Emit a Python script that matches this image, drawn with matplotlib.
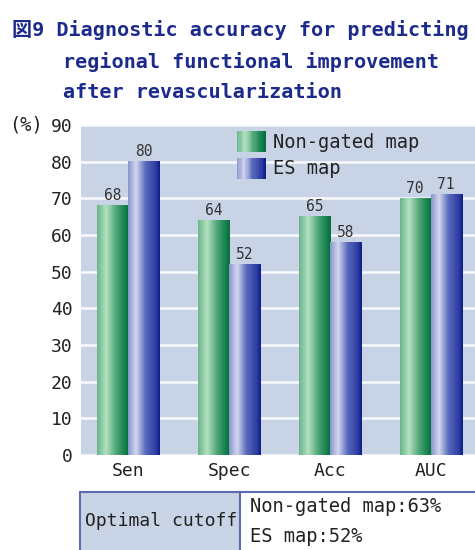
import matplotlib
matplotlib.use("Agg")
import matplotlib.pyplot as plt
import numpy as np
from matplotlib.colors import LinearSegmentedColormap
from matplotlib.patches import Rectangle
from matplotlib.legend_handler import HandlerBase

categories = ["Sen", "Spec", "Acc", "AUC"]
non_gated = [68, 64, 65, 70]
es_map = [80, 52, 58, 71]
series_names = ["Non-gated map", "ES map"]
yticks = [0, 10, 20, 30, 40, 50, 60, 70, 80, 90]
cutoff_lines = ["Non-gated map:63%", "ES map:52%"]

MONO = "DejaVu Sans Mono"
BG = "#c9d3e6"
TITLE_C = "#1c2a8c"

green_cm = LinearSegmentedColormap.from_list("g", [
    (0.0, "#68b58c"), (0.28, "#b6e1c0"), (0.6, "#4ea677"),
    (0.92, "#0c7b46"), (1.0, "#0a6b3c")])
blue_cm = LinearSegmentedColormap.from_list("b", [
    (0.0, "#8a96cc"), (0.25, "#d2d8ef"), (0.55, "#5a6abb"),
    (0.88, "#2c3ca2"), (1.0, "#0f1c88")])
grad = np.linspace(0, 1, 64).reshape(1, -1)


class GradHandler(HandlerBase):
    def __init__(self, cmap):
        super().__init__()
        self.cmap = cmap

    def create_artists(self, legend, orig_handle, xdescent, ydescent,
                       width, height, fontsize, trans):
        n = 24
        arts = []
        for i in range(n):
            r = Rectangle((-xdescent + width * i / n, -ydescent), width / n + 0.3, height,
                          facecolor=self.cmap((i + 0.5) / n), edgecolor="none",
                          transform=trans)
            arts.append(r)
        return arts


fig = plt.figure(figsize=(4.75, 5.5), dpi=100)
ax = fig.add_axes([81 / 475, 1 - 455 / 550, 397 / 475, 330 / 550])
ax.set_facecolor(BG)

x = np.arange(len(categories))
w = 0.308
bars1 = ax.bar(x - w / 2, non_gated, w, color="none", label=series_names[0])
bars2 = ax.bar(x + w / 2, es_map, w, color="none", label=series_names[1])

for bars, cm in [(bars1, green_cm), (bars2, blue_cm)]:
    for b in bars:
        x0, y0 = b.get_x(), b.get_y()
        ax.imshow(grad, cmap=cm, aspect="auto", zorder=3,
                  extent=(x0, x0 + b.get_width(), y0, y0 + b.get_height()))
        ax.text(x0 + b.get_width() / 2, b.get_height() + 0.6, f"{b.get_height():.0f}",
                ha="center", va="bottom", fontsize=10.5, family=MONO, color="#333333", zorder=4)

ax.set_xlim(-0.47, 3.47)
ax.set_ylim(0, 90)
ax.set_yticks(yticks)
ax.set_xticks(x)
ax.set_xticklabels(categories)
ax.grid(axis="y", color="white", lw=1.8, alpha=0.9, zorder=1)
ax.set_axisbelow(True)
for s in ax.spines.values():
    s.set_visible(False)
ax.tick_params(length=0, labelsize=13, labelcolor="#222222")
ax.tick_params(axis="y", pad=6)
ax.tick_params(axis="x", pad=5)
for lab in ax.get_xticklabels() + ax.get_yticklabels():
    lab.set_family(MONO)

leg = ax.legend(handles=[bars1, bars2], labels=series_names,
                handler_map={bars1: GradHandler(green_cm), bars2: GradHandler(blue_cm)},
                loc="upper left", bbox_to_anchor=(237 / 475, 1 - 131 / 550),
                bbox_transform=fig.transFigure, frameon=False, borderpad=0,
                borderaxespad=0, handlelength=1.5, handleheight=1.35,
                handletextpad=0.4, labelspacing=0.3,
                prop={"family": MONO, "size": 13.5})
for t in leg.get_texts():
    t.set_color("#222222")

# title
title_font = {"family": [MONO, "Noto Sans CJK JP"], "weight": "bold",
              "size": 14.5, "color": TITLE_C}
fig.text(12 / 475, 1 - 30 / 550, "図9 Diagnostic accuracy for predicting",
         va="center", ha="left", **title_font)
fig.text(63 / 475, 1 - 62 / 550, "regional functional improvement",
         va="center", ha="left", **title_font)
fig.text(63 / 475, 1 - 93 / 550, "after revascularization",
         va="center", ha="left", **title_font)

fig.text(9 / 475, 1 - 125 / 550, "(%)", va="center", ha="left",
         family=MONO, fontsize=13.5, color="#222222")

# bottom cutoff table
border = "#5c6cb4"
fig.patches.append(Rectangle((80 / 475, 1 - 560 / 550), 160 / 475, 68 / 550,
                             transform=fig.transFigure, facecolor=BG,
                             edgecolor=border, lw=1.5))
fig.patches.append(Rectangle((240 / 475, 1 - 560 / 550), 260 / 475, 68 / 550,
                             transform=fig.transFigure, facecolor="white",
                             edgecolor=border, lw=1.5))
fig.text(161 / 475, 1 - 521 / 550, "Optimal cutoff", ha="center", va="center",
         family=MONO, fontsize=13, color="#222222")
fig.text(250 / 475, 1 - 507 / 550, cutoff_lines[0], ha="left", va="center",
         family=MONO, fontsize=13.5, color="#222222")
fig.text(250 / 475, 1 - 536 / 550, cutoff_lines[1], ha="left", va="center",
         family=MONO, fontsize=13.5, color="#222222")

fig.savefig("out.png", dpi=100)
